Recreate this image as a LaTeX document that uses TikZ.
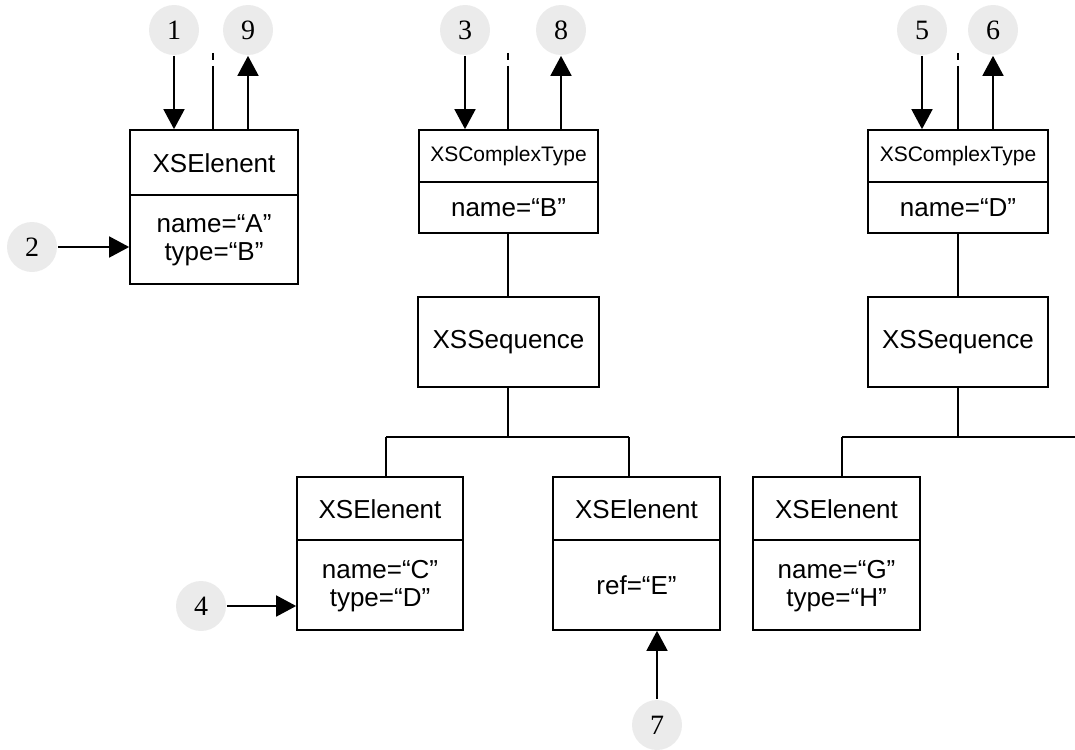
\documentclass[tikz,border=0pt]{standalone}
\usepackage{fontspec}
\setmainfont{Liberation Sans}
\newfontfamily\numfont{Liberation Serif}
\usetikzlibrary{arrows.meta}
\begin{document}
\begin{tikzpicture}[x=1pt,y=-1pt,
  line width=1.7pt,
  boxnode/.style={draw, rectangle, inner sep=0pt, line width=1.7pt},
  lbl/.style={inner sep=0pt, align=center, font=\fontsize{26}{28}\selectfont},
  smalllbl/.style={inner sep=0pt, align=center, font=\fontsize{21}{24}\selectfont},
  numcirc/.style={circle, fill=black!8, draw=none, minimum size=50pt, inner sep=0pt, font=\numfont\fontsize{28}{30}\selectfont},
  arr/.style={-{Triangle[length=20pt,width=21pt]}, line width=1.7pt},
  stub/.style={dash pattern=on 7pt off 6pt on 100pt}
]
\useasboundingbox (0,0) rectangle (1075,749);

% ---------- Box A ----------
\node[boxnode, minimum width=168pt, minimum height=154pt] (bA) at (214,207) {};
\draw (130,195) -- (298,195);
\node[lbl] (bAh) at (214,163) {XSElenent};
\node[lbl] (bAb) at (214,240) {name=“A”\\type=“B”};

% ---------- Box B ----------
\node[boxnode, minimum width=179pt, minimum height=103pt] (bB) at (508.5,181.5) {};
\draw (419,182) -- (598,182);
\node[smalllbl] (bBh) at (508.5,156) {XSComplexType};
\node[lbl] (bBb) at (508.5,208) {name=“B”};

% ---------- Box D ----------
\node[boxnode, minimum width=180pt, minimum height=103pt] (bD) at (958,181.5) {};
\draw (868,182) -- (1048,182);
\node[smalllbl] (bDh) at (958,156) {XSComplexType};
\node[lbl] (bDb) at (958,208) {name=“D”};

% ---------- Sequences ----------
\node[boxnode, minimum width=181pt, minimum height=90pt, lbl] (sL) at (508.5,342) {XSSequence};
\node[boxnode, minimum width=180pt, minimum height=90pt, lbl] (sR) at (958,342) {XSSequence};

% ---------- Box C ----------
\node[boxnode, minimum width=166pt, minimum height=153pt] (bC) at (380,553.5) {};
\draw (297,540) -- (463,540);
\node[lbl] (bCh) at (380,509) {XSElenent};
\node[lbl] (bCb) at (380,586) {name=“C”\\type=“D”};

% ---------- Box E ----------
\node[boxnode, minimum width=167pt, minimum height=153pt] (bE) at (636.5,553.5) {};
\draw (553,540) -- (720,540);
\node[lbl] (bEh) at (636.5,509) {XSElenent};
\node[lbl] (bEb) at (636.5,585) {ref=“E”};

% ---------- Box G ----------
\node[boxnode, minimum width=167pt, minimum height=153pt] (bG) at (836.5,553.5) {};
\draw (753,540) -- (920,540);
\node[lbl] (bGh) at (836.5,509) {XSElenent};
\node[lbl] (bGb) at (836.5,586) {name=“G”\\type=“H”};

% ---------- Tree connectors ----------
\coordinate (jL) at (508,437);
\coordinate (jR) at (958,437);
\coordinate (edgeR) at (1075,437);
\coordinate (kC) at (386,437);
\coordinate (kE) at (629,437);
\coordinate (kG) at (842,437);
\draw (bB.south -| jL) -- (sL.north -| jL);
\draw (bD) -- (sR);
\draw (sL.south -| jL) -- (jL);
\draw (kC) -- (kE);
\draw (kC) -- (kC |- bC.north);
\draw (kE) -- (kE |- bE.north);
\draw (sR) -- (jR);
\draw (kG) -- (edgeR);
\draw (kG) -- (kG |- bG.north);

% ---------- Number circles ----------
\node[numcirc] (n1) at (174,30) {1};
\node[numcirc] (n9) at (248,30) {9};
\node[numcirc] (n2) at (32,247) {2};
\node[numcirc] (n3) at (465,30) {3};
\node[numcirc] (n8) at (561,30) {8};
\node[numcirc] (n5) at (922,30) {5};
\node[numcirc] (n6) at (993,30) {6};
\node[numcirc] (n4) at (201,606) {4};
\node[numcirc] (n7) at (657,725) {7};

% ---------- Arrows ----------
\draw[arr] (n1) -- (n1 |- bA.north);
\draw[arr] (n9 |- bA.north) -- (n9);
\draw[arr] (n2) -- (bA.west |- n2);
\draw[arr] (n3) -- (n3 |- bB.north);
\draw[arr] (n8 |- bB.north) -- (n8);
\draw[arr] (n5) -- (n5 |- bD.north);
\draw[arr] (n6 |- bD.north) -- (n6);
\draw[arr] (n4) -- (bC.west |- n4);
\draw[arr] (n7) -- (n7 |- bE.south);

% ---------- Dashed stubs ----------
\coordinate (tA) at (213,53);
\coordinate (tB) at (508,53);
\coordinate (tD) at (958,53);
\draw[stub] (tA) -- (tA |- bA.north);
\draw[stub] (tB) -- (tB |- bB.north);
\draw[stub] (tD) -- (tD |- bD.north);
\end{tikzpicture}
\end{document}
